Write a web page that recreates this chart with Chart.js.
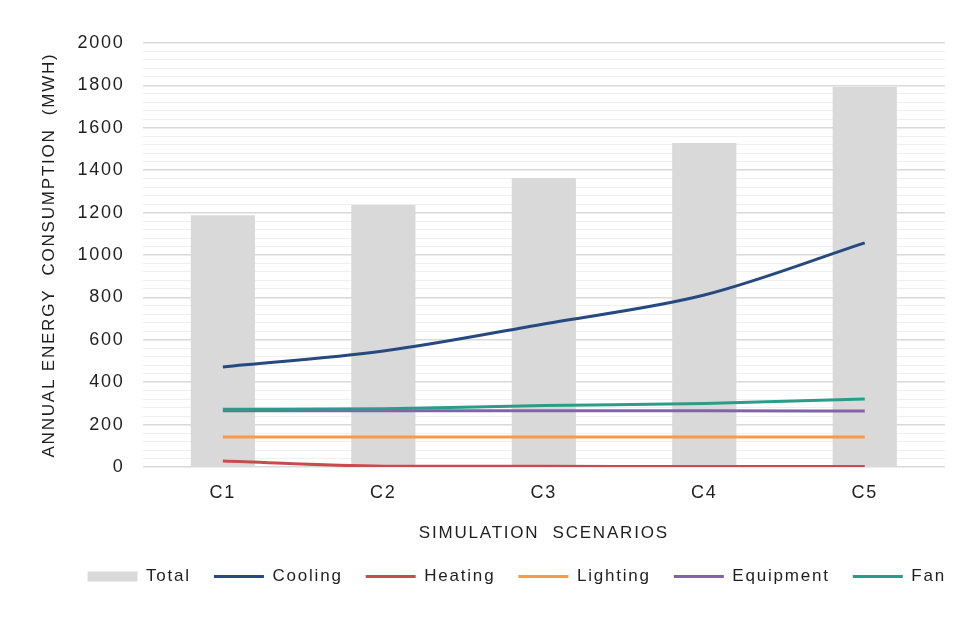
<!DOCTYPE html>
<html>
<head>
<meta charset="utf-8">
<script src="https://cdn.jsdelivr.net/npm/chart.js@4/dist/chart.umd.min.js"></script>
<style>
html,body{margin:0;padding:0;background:#fff;}
#wrap{width:965px;height:619px;}
</style>
</head>
<body>
<div id="wrap"><canvas id="c" width="965" height="619"></canvas></div>
<script>
const categories = ['C1', 'C2', 'C3', 'C4', 'C5'];
const total = [1188, 1236, 1363, 1528, 1792];
const cooling = [472, 547, 675, 811, 1057];
const heating = [28, 4, 3, 2, 2];
const lighting = [142, 142, 142, 142, 142];
const equipment = [265, 265, 265, 265, 264];
const fan = [272, 275, 290, 300, 321];
const yMajorTicks = [0, 200, 400, 600, 800, 1000, 1200, 1400, 1600, 1800, 2000];

const font = 'Liberation Sans, Arial, sans-serif';
function lineDs(label, data, color, order) {
  return {
    type: 'line', label, data, borderColor: color, backgroundColor: color,
    borderWidth: 3, pointRadius: 0, pointHoverRadius: 0, tension: 0.3,
    cubicInterpolationMode: 'monotone', fill: false, order, pointStyle: 'line'
  };
}

const spacing = {
  id: 'spacing',
  beforeLayout(chart) { chart.ctx.letterSpacing = '1.8px'; },
  beforeDraw(chart) { chart.ctx.letterSpacing = '1.8px'; }
};
// shift the bottom legend box to the right so it lines up with the plot's right edge
const legendShift = {
  id: 'legendShift',
  afterLayout(chart) {
    const lg = chart.legend;
    if (lg) { lg.left += 24; lg.right += 24; }
  }
};

new Chart(document.getElementById('c'), {
  plugins: [spacing, legendShift],
  data: {
    labels: categories,
    datasets: [
      { type: 'bar', label: 'Total', data: total, backgroundColor: '#d9d9d9',
        barPercentage: 0.4, categoryPercentage: 1.0, order: 10, pointStyle: 'rect' },
      lineDs('Cooling', cooling, '#264a80', 1),
      lineDs('Heating', heating, '#c94c4c', 6),
      lineDs('Lighting', lighting, '#f89a48', 5),
      lineDs('Equipment', equipment, '#8163a8', 4),
      lineDs('Fan', fan, '#2b9c88', 3)
    ]
  },
  options: {
    responsive: false,
    animation: false,
    layout: { padding: { left: 35, right: 20, top: 43, bottom: 24 } },
    plugins: {
      tooltip: { enabled: false },
      legend: {
        position: 'bottom',
        align: 'end',
        labels: {
          usePointStyle: true,
          pointStyleWidth: 50,
          boxHeight: 10,
          padding: 23,
          color: '#1f1f1f',
          font: { family: font, size: 17 },
          sort: (a, b) => a.datasetIndex - b.datasetIndex
        }
      }
    },
    scales: {
      x: {
        grid: { display: false, drawTicks: false },
        border: { display: false },
        ticks: { color: '#1f1f1f', font: { family: font, size: 18 }, padding: 15 },
        title: { display: true, text: 'SIMULATION  SCENARIOS', color: '#1f1f1f',
          font: { family: font, size: 17 }, padding: { top: 5, bottom: 1 } }
      },
      y: {
        min: 0, max: 2000,
        grid: {
          drawTicks: false,
          color: (ctx) => (ctx.tick && yMajorTicks.includes(ctx.tick.value)) ? '#d9d9d9' : '#efefef',
          lineWidth: (ctx) => (ctx.tick && yMajorTicks.includes(ctx.tick.value)) ? 1.5 : 1
        },
        border: { display: false },
        ticks: {
          stepSize: 40, autoSkip: false, padding: 18,
          color: '#1f1f1f', font: { family: font, size: 18 },
          callback: (v) => yMajorTicks.includes(v) ? String(v) : ''
        },
        title: { display: true, text: 'ANNUAL ENERGY  CONSUMPTION  (MWH)', color: '#1f1f1f',
          font: { family: font, size: 17 }, padding: { bottom: 0 } }
      }
    }
  }
});
</script>
</body>
</html>
